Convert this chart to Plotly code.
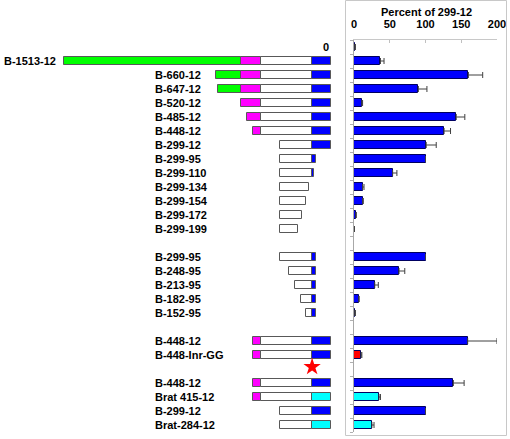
import plotly.graph_objects as go

# ---------------- data ----------------
labels = ["0", "B-1513-12", "B-660-12", "B-647-12", "B-520-12", "B-485-12", "B-448-12",
          "B-299-12", "B-299-95", "B-299-110", "B-299-134", "B-299-154", "B-299-172",
          "B-299-199", "", "B-299-95", "B-248-95", "B-213-95", "B-182-95", "B-152-95",
          "", "B-448-12", "B-448-Inr-GG", "", "B-448-12", "Brat 415-12", "B-299-12",
          "Brat-284-12"]
# construct upstream / downstream ends (bp, as drawn in the schematic)
start_bp = [None, 1513, 660, 647, 520, 485, 448, 299, 299, 299, 299, 299, 299, 299,
            None, 299, 248, 213, 182, 152, None, 448, 448, None, 448, 448, 299, 299]
end_bp = [None, 12, 12, 12, 12, 12, 12, 12, 95, 110, 134, 154, 172, 199,
          None, 95, 95, 95, 95, 95, None, 12, 12, None, 12, 12, 12, 12]
species = ["B"] * 24 + ["B", "Brat", "B", "Brat"]
mutant = [False] * 22 + [True] + [False] * 5
# schematic region boundaries (bp upstream)
region_names = ["distal", "conserved", "proximal", "core"]
region_hi = [2000, 520, 405, 118]
region_lo = [520, 405, 118, 0]

# activity (percent of 299-12) and error
percent = [1, 37, 160, 90, 11, 143, 126, 101, 100, 54, 12, 12, 3, 0.5,
           None, 100, 63, 29, 7, 1, None, 159, 10, None, 139, 35, 100, 25]
percent_err = [1, 5, 20, 12, 1, 12, 9, 14, 0, 6, 2, 1, 0, 0,
               None, 0, 8, 5, 0, 1, None, 41, 1, None, 15, 2, 0, 3]
x_ticks = [0, 50, 100, 150, 200]
star_row = 22.85
star_bp = 118

# ---------------- styles ----------------
W, H = 510, 439
FONT = "Liberation Sans, Arial, sans-serif"
region_colors = {"distal": "#00ff00", "conserved": "#ff00ff", "proximal": "#ffffff"}
core_colors = {"B": "#0000ff", "Brat": "#00ffff"}
BOX_H = 0.55

fig = go.Figure()

# schematic segments
def add_segments(hi, lo, color, row_filter):
    ys, bases, lens = [], [], []
    for i, (s, e) in enumerate(zip(start_bp, end_bp)):
        if s is None or not row_filter(i):
            continue
        a = min(s, hi)
        b = max(e, lo)
        if a > b:
            ys.append(i)
            bases.append(-a)
            lens.append(a - b)
    fig.add_trace(go.Bar(y=ys, x=lens, base=bases, orientation="h", width=BOX_H,
                         marker=dict(color=color, line=dict(color="#585858", width=1)),
                         xaxis="x", yaxis="y", showlegend=False, hoverinfo="skip"))

for name, hi, lo in zip(region_names, region_hi, region_lo):
    if name == "core":
        for sp, col in core_colors.items():
            add_segments(hi, lo, col, lambda i, sp=sp: species[i] == sp)
    else:
        add_segments(hi, lo, region_colors[name], lambda i: True)

# mutation star
fig.add_trace(go.Scatter(x=[-star_bp], y=[star_row], mode="markers",
                         marker=dict(symbol="star", size=13, color="#ff0000",
                                     line=dict(width=0)),
                         xaxis="x", yaxis="y", showlegend=False, hoverinfo="skip"))

# activity bars
bar_colors = []
for sp, mu in zip(species, mutant):
    if mu:
        bar_colors.append("#ff0000")
    elif sp == "Brat":
        bar_colors.append("#00ffff")
    else:
        bar_colors.append("#0000ff")
rows = list(range(len(labels)))
fig.add_trace(go.Bar(y=rows, x=percent, orientation="h", width=BOX_H,
                     marker=dict(color=bar_colors, line=dict(color="#000060", width=1)),
                     error_x=dict(type="data", symmetric=False, array=percent_err,
                                  arrayminus=[0] * len(rows), color="#404040",
                                  thickness=1, width=3),
                     xaxis="x2", yaxis="y2", showlegend=False))

# labels
ann = []
for i, lab in enumerate(labels):
    if not lab or i == 0:
        continue
    xpos = 2 / W if i == 1 else 153 / W
    ann.append(dict(x=xpos, y=i, xref="paper", yref="y", text="<b>%s</b>" % lab,
                    showarrow=False, xanchor="left", yanchor="middle",
                    font=dict(family=FONT, size=11, color="#000000")))
ann.append(dict(x=326 / W, y=0, xref="paper", yref="y", text="<b>%s</b>" % labels[0],
                showarrow=False, xanchor="center", yanchor="middle",
                font=dict(family=FONT, size=11, color="#000000")))
ann.append(dict(x=426 / W, y=1 - 12 / H, xref="paper", yref="paper",
                text="<b>Percent of 299-12</b>", showarrow=False,
                xanchor="center", yanchor="middle",
                font=dict(family=FONT, size=11, color="#000000")))

fig.update_layout(
    width=W, height=H, margin=dict(l=0, r=0, t=0, b=0, autoexpand=False),
    paper_bgcolor="#ffffff", plot_bgcolor="rgba(0,0,0,0)",
    barmode="overlay", bargap=0, showlegend=False,
    annotations=ann,
    xaxis=dict(domain=[0, 340 / W], range=[-(333.1 / 0.178), (340 - 333.1) / 0.178],
               visible=False, fixedrange=True, automargin=False),
    yaxis=dict(domain=[0, 1], range=[28, -47 / 14], visible=False, fixedrange=True,
               automargin=False),
    xaxis2=dict(domain=[354 / W, 497 / W], range=[0, 200], side="top", anchor="y2",
                tickvals=x_ticks, ticks="inside", ticklen=3, tickcolor="#c0c0c0",
                showline=True, linecolor="#c8c8c8", linewidth=1, automargin=False,
                showgrid=False, zeroline=False, ticklabelstandoff=7,
                tickfont=dict(family=FONT, size=11, color="#000000", weight="bold")),
    yaxis2=dict(domain=[1 - 432 / H, 1 - 40 / H], range=[27.5, -0.5], anchor="x2",
                tickvals=[i + 0.5 for i in range(-1, 28)], ticks="outside", ticklen=3,
                tickcolor="#b0b0b0", showticklabels=False, automargin=False,
                showline=True, linecolor="#a8a8a8", linewidth=1,
                showgrid=False, zeroline=False),
    shapes=[dict(type="rect", xref="paper", yref="paper", x0=345.5 / W, x1=506.5 / W,
                 y0=1 - 435.5 / H, y1=1 - 0.5 / H, line=dict(color="#c8c8c8", width=1),
                 fillcolor="rgba(0,0,0,0)")],
)

fig.write_html("out.html", config={"displayModeBar": False},
               post_script="document.body.style.margin='0';document.body.style.padding='0';")
